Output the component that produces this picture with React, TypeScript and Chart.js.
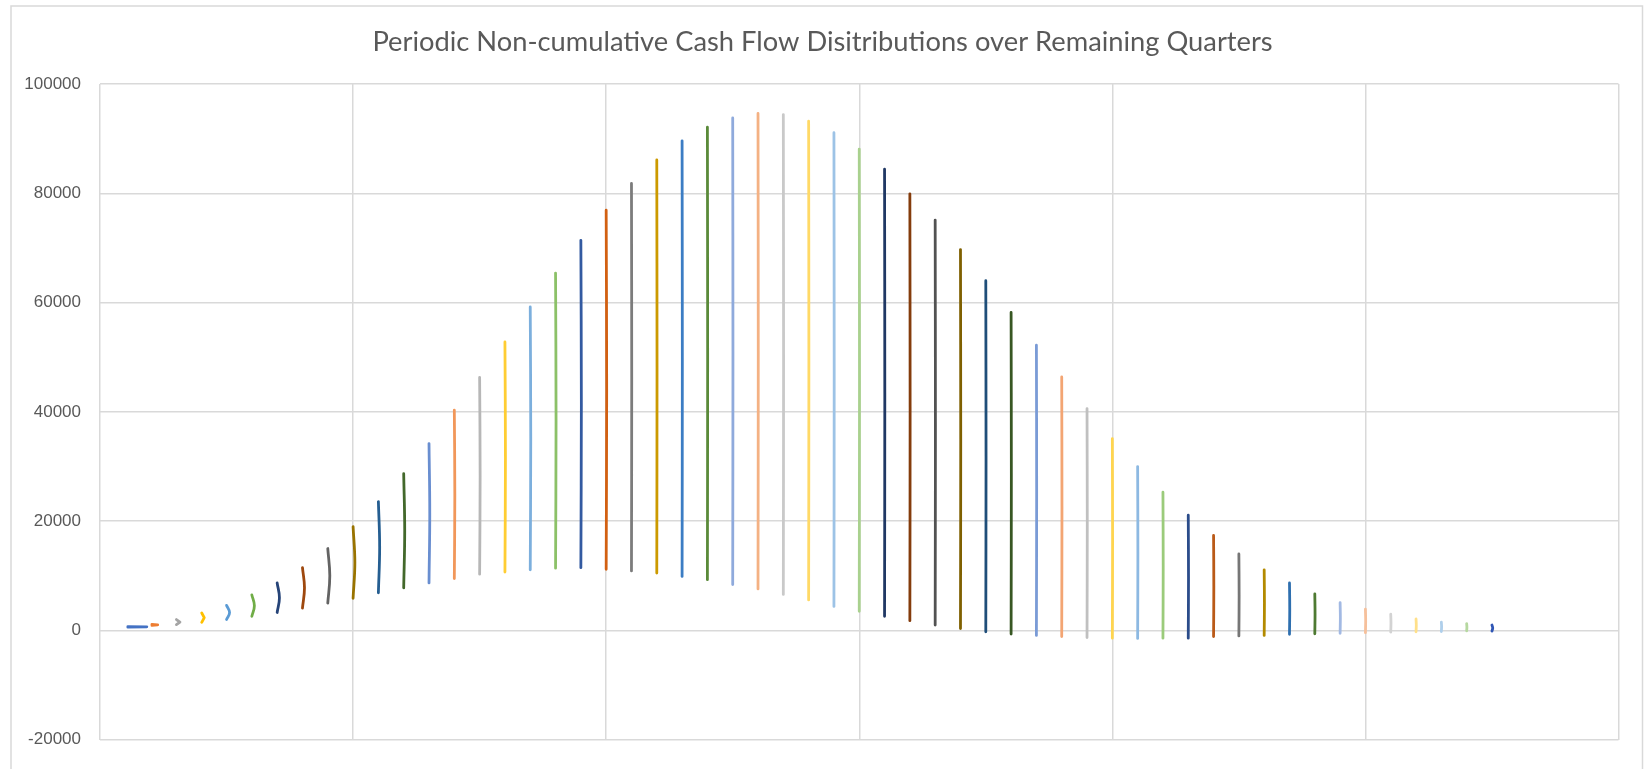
import React, { useEffect, useRef } from "react";
import { Chart, registerables } from "chart.js";

Chart.register(...registerables);

const TITLE = "Periodic Non-cumulative Cash Flow Disitributions over Remaining Quarters";

const QUARTERS = [
  1, 2, 3, 4, 5, 6, 7, 8, 9, 10, 11, 12, 13, 14, 15, 16, 17, 18, 19, 20,
  21, 22, 23, 24, 25, 26, 27, 28, 29, 30, 31, 32, 33, 34, 35, 36, 37, 38, 39, 40,
  41, 42, 43, 44, 45, 46, 47, 48, 49, 50, 51, 52, 53, 54, 55,
];

const LOW_VALUES = [
  600, 950, 1080, 1500, 2000, 2600, 3300, 4100, 5000, 5900,
  6900, 7800, 8700, 9500, 10300, 10700, 11100, 11400, 11500, 11200,
  10900, 10500, 9900, 9300, 8400, 7600, 6600, 5600, 4400, 3500,
  2600, 1800, 1000, 360, -230, -650, -900, -1100, -1300, -1400,
  -1450, -1400, -1400, -1100, -1000, -900, -700, -600, -500, -400,
  -300, -230, -180, -60, -100,
];

const HIGH_VALUES = [
  720, 1100, 2000, 3200, 4600, 6500, 8700, 11500, 15000, 19000,
  23600, 28700, 34200, 40300, 46300, 52800, 59200, 65400, 71400, 76900,
  81800, 86100, 89600, 92100, 93800, 94600, 94400, 93200, 91100, 88100,
  84400, 79900, 75100, 69700, 64000, 58200, 52200, 46400, 40600, 35100,
  30000, 25300, 21100, 17400, 14000, 11100, 8700, 6700, 5100, 3900,
  3000, 2100, 1550, 1250, 1000,
];

// horizontal spread of each distribution curve (in quarters)
const TAIL_OFFSETS = [
  0.1, 0.05, 0.02, 0.02, 0, 0, 0, 0, 0, 0,
  0, 0, 0, 0, 0, 0, 0, 0, 0, 0,
  0, 0, 0, 0, 0, 0, 0, 0, 0, 0,
  0, 0, 0, 0, 0, 0, 0, 0, 0, 0,
  0, 0, 0, 0, 0, 0, 0, 0, 0, 0,
  0, 0, 0, 0, 0,
];

const PEAK_OFFSETS = [
  0.85, 0.28, 0.16, 0.12, 0.12, 0.1, 0.09, 0.08, 0.08, 0.07,
  0.05, 0.04, 0.03, 0.02, 0.02, 0.02, 0.02, 0.02, 0.02, 0.02,
  0.01, 0.01, 0.01, 0.01, 0.01, 0.01, 0.01, 0.01, 0.01, 0.01,
  0.01, 0.01, 0.01, 0.01, 0.01, 0.01, 0.01, 0.01, 0.01, 0.01,
  0.01, 0.01, 0.01, 0.01, 0.01, 0.01, 0.01, 0.01, 0.01, 0.01,
  0.01, 0.01, 0.01, 0.01, 0.03,
];

const SERIES_COLORS = [
  "#4472C4", "#ED7D31", "#A5A5A5", "#FFC000", "#5B9BD5", "#70AD47",
  "#264478", "#9E480E", "#636363", "#997300", "#255E91", "#43682B",
  "#698ED0", "#F1975A", "#B7B7B7", "#FFCD33", "#7CAFDD", "#8CC168",
  "#335AA1", "#D26012", "#7C7C7C", "#CC9A00", "#3C7DC4", "#5A8A39",
  "#8FAADC", "#F4B183", "#C9C9C9", "#FFD966", "#9DC3E6", "#A9D18E",
  "#203864", "#843C0C", "#525252", "#7F6000", "#1F4E79", "#385723",
  "#7A9BD6", "#F3A573", "#C0C0C0", "#FFD54F", "#8DB9E2", "#9BCB7B",
  "#2B4C8A", "#BA5A18", "#767676", "#B38A00", "#2E6FAF", "#4E7A32",
  "#A2B9E3", "#F6C09B", "#D3D3D3", "#FFE08A", "#AFCFEB", "#B6D8A0",
  "#3056B5",
];

const Y_MIN = -20000;
const Y_MAX = 100000;
const Y_STEP = 20000;
const X_MIN = 0;
const X_MAX = 60;
const X_STEP = 10;

const W = 1645;
const H = 769;

export default function App() {
  const ref = useRef<HTMLCanvasElement | null>(null);

  useEffect(() => {
    document.body.style.margin = "0";
    document.body.style.overflow = "hidden";
    const canvas = ref.current;
    if (!canvas) return;

    const datasets = QUARTERS.map((q, i) => {
      const lo = LOW_VALUES[i];
      const hi = HIGH_VALUES[i];
      return {
        label: "Q" + q,
        data: [
          { x: q + TAIL_OFFSETS[i], y: lo },
          { x: q + PEAK_OFFSETS[i], y: (lo + hi) / 2 },
          { x: q + TAIL_OFFSETS[i], y: hi },
        ],
        showLine: true,
        borderColor: SERIES_COLORS[i],
        backgroundColor: SERIES_COLORS[i],
        borderWidth: 2.8,
        borderCapStyle: "round" as const,
        borderJoinStyle: "round" as const,
        pointRadius: 0,
        tension: i < 4 ? 0 : 0.4,
      };
    });

    const frame = {
      id: "frameAndTitle",
      beforeDraw(chart: any) {
        const ctx = chart.ctx;
        ctx.save();
        ctx.fillStyle = "#ffffff";
        ctx.fillRect(0, 0, W, H);
        ctx.strokeStyle = "#D9D9D9";
        ctx.lineWidth = 1.5;
        ctx.beginPath();
        ctx.moveTo(11, H + 2);
        ctx.lineTo(11, 6);
        ctx.lineTo(1642.5, 6);
        ctx.lineTo(1642.5, H + 2);
        ctx.stroke();
        ctx.fillStyle = "#595959";
        ctx.font = "27.3px Lato";
        ctx.textAlign = "center";
        ctx.textBaseline = "alphabetic";
        ctx.fillText(TITLE, W / 2, 51);
        ctx.restore();
      },
    };

    const chart = new Chart(canvas, {
      type: "scatter",
      data: { datasets },
      plugins: [frame],
      options: {
        responsive: false,
        animation: false,
        devicePixelRatio: 1,
        layout: { padding: { left: 0, top: 84, right: 26.5, bottom: 17 } },
        plugins: {
          legend: { display: false },
          tooltip: { enabled: false },
          title: { display: false },
        },
        scales: {
          x: {
            type: "linear",
            min: X_MIN,
            max: X_MAX,
            ticks: { display: false, stepSize: X_STEP },
            grid: { color: "#D9D9D9", lineWidth: 1.5, drawTicks: false },
            border: { display: false },
            afterFit: (s: any) => {
              s.height = 0;
            },
          },
          y: {
            min: Y_MIN,
            max: Y_MAX,
            ticks: {
              stepSize: Y_STEP,
              color: "#595959",
              font: { family: "Liberation Sans", size: 17 },
              padding: 19,
              callback: (v: any) => String(v),
            },
            grid: { color: "#D9D9D9", lineWidth: 1.5, drawTicks: false },
            border: { display: false },
            afterFit: (s: any) => {
              s.width = 100;
            },
          },
        },
      },
    });
    return () => chart.destroy();
  }, []);

  return (
    <canvas
      ref={ref}
      width={W}
      height={H}
      style={{ display: "block", width: W + "px", height: H + "px" }}
    />
  );
}
